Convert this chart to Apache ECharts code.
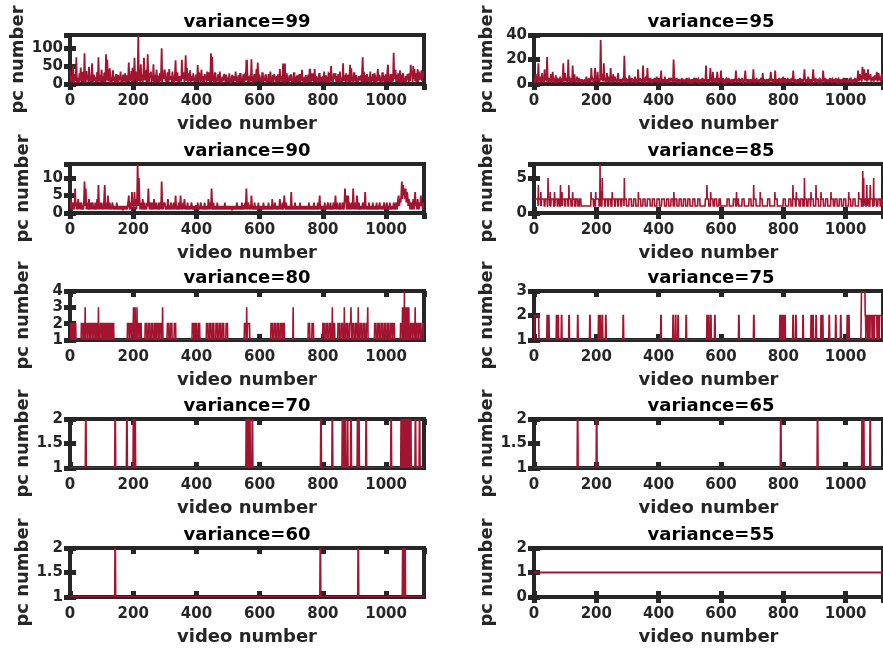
<!DOCTYPE html>
<html>
<head>
<meta charset="utf-8">
<script src="https://cdn.jsdelivr.net/npm/echarts@6/dist/echarts.min.js"></script>
<style>
  html, body { margin: 0; padding: 0; background: #ffffff; }
  #chart { width: 883px; height: 648px; }
</style>
</head>
<body>
<div id="chart"></div>
<script>
// Number of videos on every x axis, and the spacing of the densely sampled series.
const videoCount = 1120;
const denseStep = 2;

const panelTitles = ['variance=99', 'variance=95', 'variance=90', 'variance=85', 'variance=80',
                     'variance=75', 'variance=70', 'variance=65', 'variance=60', 'variance=55'];
const xTickLabels = [0, 200, 400, 600, 800, 1000];

// pc number, one value every 2 videos (video 0, 2, 4, ... 1120); each row covers 20 videos
const pcVar99 = [
  38, 6, 22, 5, 14, 52, 3, 20, 28, 7,
  75, 4, 8, 18, 3, 30, 9, 46, 6, 25,
  34, 4, 15, 86, 9, 4, 36, 12, 22, 5,
  48, 7, 18, 6, 30, 58, 4, 18, 26, 8,
  20, 5, 14, 33, 6, 75, 8, 24, 4, 17,
  40, 6, 19, 5, 28, 30, 4, 83, 9, 68,
  22, 7, 31, 44, 3, 18, 4, 25, 38, 8,
  20, 5, 14, 28, 6, 8, 26, 4, 22, 12,
  35, 4, 18, 6, 26, 18, 7, 30, 12, 4,
  24, 6, 17, 60, 5, 25, 9, 36, 8, 45,
  30, 6, 73, 12, 34, 30, 4, 18, 137, 9,
  20, 5, 55, 8, 26, 5, 30, 73, 10, 28,
  40, 6, 25, 83, 4, 7, 30, 18, 35, 6,
  22, 8, 55, 5, 26, 4, 18, 40, 6, 22,
  18, 4, 30, 7, 25, 100, 5, 28, 14, 38,
  38, 7, 20, 6, 30, 30, 5, 42, 12, 20,
  20, 6, 35, 16, 5, 5, 28, 66, 8, 25,
  33, 6, 22, 4, 20, 20, 7, 68, 14, 30,
  30, 5, 22, 80, 9, 45, 6, 30, 7, 20,
  38, 5, 22, 16, 8, 30, 7, 18, 5, 24,
  24, 6, 53, 12, 32, 25, 4, 18, 40, 9,
  6, 22, 4, 28, 20, 15, 5, 35, 8, 30,
  30, 6, 18, 86, 5, 76, 9, 20, 4, 30,
  30, 4, 16, 7, 25, 25, 6, 35, 12, 5,
  5, 20, 8, 22, 28, 14, 4, 26, 18, 6,
  18, 5, 30, 8, 4, 4, 22, 25, 6, 20,
  20, 7, 35, 14, 6, 6, 22, 22, 5, 28,
  28, 6, 14, 5, 25, 25, 4, 30, 10, 65,
  65, 6, 18, 20, 4, 20, 7, 69, 12, 5,
  7, 22, 28, 5, 16, 42, 6, 60, 14, 25,
  22, 5, 18, 4, 30, 30, 6, 18, 8, 25,
  25, 4, 14, 5, 28, 20, 6, 35, 12, 7,
  7, 25, 5, 28, 16, 20, 4, 22, 5, 25,
  25, 6, 42, 7, 18, 22, 5, 57, 10, 4,
  57, 4, 22, 30, 6, 18, 5, 24, 8, 25,
  25, 5, 16, 6, 30, 30, 4, 20, 4, 22,
  22, 6, 18, 28, 5, 28, 7, 40, 12, 7,
  7, 20, 4, 25, 5, 5, 18, 26, 6, 40,
  40, 5, 20, 30, 8, 30, 6, 42, 14, 6,
  22, 4, 18, 4, 28, 28, 6, 20, 5, 18,
  20, 5, 35, 7, 14, 24, 4, 20, 4, 30,
  28, 6, 20, 50, 7, 18, 5, 30, 14, 24,
  30, 6, 22, 5, 25, 25, 4, 35, 12, 6,
  18, 5, 58, 8, 20, 22, 6, 30, 7, 18,
  25, 6, 20, 54, 5, 44, 8, 20, 4, 30,
  30, 7, 14, 25, 5, 18, 6, 22, 10, 20,
  22, 5, 30, 75, 6, 35, 4, 25, 5, 18,
  28, 6, 16, 20, 5, 35, 4, 20, 7, 28,
  25, 5, 30, 18, 6, 5, 22, 42, 8, 25,
  22, 6, 18, 4, 30, 30, 7, 22, 5, 25,
  25, 5, 35, 54, 8, 20, 6, 28, 12, 4,
  28, 7, 87, 14, 22, 40, 6, 25, 5, 30,
  22, 5, 38, 25, 4, 7, 25, 30, 6, 12,
  4, 22, 6, 18, 28, 22, 5, 30, 8, 54,
  28, 35, 6, 50, 14, 42, 8, 30, 5, 25,
  42, 6, 35, 20, 12, 25, 38, 8, 30, 20,
  38
];

const pcVar95 = [
  3, 1, 6, 8, 2, 5, 1, 17, 4, 2,
  6, 1, 3, 9, 2, 4, 1, 12, 3, 5,
  2, 22, 4, 1, 5, 4, 2, 8, 1, 3,
  10, 2, 5, 1, 2, 7, 3, 1, 5, 2,
  4, 1, 6, 2, 3, 1, 5, 17, 2, 4,
  9, 2, 5, 1, 3, 20, 2, 6, 1, 4,
  4, 1, 15, 3, 2, 8, 1, 4, 2, 6,
  3, 1, 5, 2, 4, 2, 1, 4, 2, 3,
  3, 1, 4, 2, 6, 2, 1, 3, 2, 5,
  2, 1, 13, 3, 4, 2, 1, 5, 13, 2,
  6, 2, 10, 3, 4, 1, 5, 36, 3, 8,
  5, 2, 17, 3, 5, 1, 4, 9, 2, 3,
  6, 1, 3, 13, 2, 4, 1, 8, 3, 2,
  6, 2, 4, 1, 5, 9, 2, 4, 1, 3,
  4, 1, 3, 5, 2, 23, 3, 1, 5, 2,
  4, 1, 3, 7, 2, 3, 1, 5, 2, 4,
  2, 1, 6, 3, 2, 4, 1, 12, 3, 2,
  5, 2, 4, 1, 3, 15, 2, 4, 1, 5,
  6, 2, 13, 3, 1, 3, 2, 5, 1, 2,
  4, 1, 3, 2, 5, 3, 1, 6, 2, 3,
  3, 1, 5, 2, 11, 2, 1, 4, 2, 3,
  6, 1, 2, 4, 2, 3, 1, 5, 2, 4,
  5, 2, 4, 1, 20, 6, 2, 3, 1, 5,
  3, 1, 4, 2, 3, 2, 1, 5, 2, 3,
  4, 1, 2, 3, 2, 5, 1, 3, 2, 4,
  3, 1, 2, 4, 2, 3, 1, 5, 2, 3,
  5, 1, 3, 2, 4, 3, 1, 2, 4, 2,
  5, 1, 3, 2, 4, 2, 15, 3, 1, 4,
  2, 1, 4, 13, 2, 3, 1, 10, 2, 4,
  3, 1, 5, 2, 10, 4, 1, 3, 2, 4,
  11, 2, 3, 1, 4, 2, 1, 3, 2, 4,
  3, 1, 5, 2, 3, 2, 1, 4, 2, 3,
  4, 1, 3, 2, 11, 3, 1, 4, 2, 5,
  3, 1, 4, 2, 5, 3, 1, 2, 4, 11,
  3, 1, 4, 2, 3, 2, 1, 4, 2, 3,
  4, 1, 12, 3, 2, 4, 1, 5, 2, 3,
  3, 1, 4, 2, 5, 3, 1, 9, 2, 3,
  4, 1, 2, 3, 2, 4, 1, 3, 2, 5,
  10, 2, 3, 1, 4, 2, 1, 11, 3, 2,
  4, 1, 3, 2, 5, 2, 1, 3, 2, 4,
  6, 1, 3, 2, 4, 2, 1, 5, 2, 3,
  4, 1, 3, 2, 5, 2, 11, 3, 1, 4,
  3, 1, 2, 4, 2, 3, 1, 5, 2, 3,
  4, 1, 3, 5, 12, 3, 1, 4, 2, 3,
  6, 1, 3, 2, 4, 2, 1, 5, 12, 3,
  3, 1, 5, 2, 4, 2, 1, 3, 2, 4,
  3, 1, 2, 4, 11, 3, 1, 5, 2, 3,
  4, 1, 2, 3, 2, 5, 1, 3, 2, 4,
  3, 1, 4, 2, 5, 2, 1, 3, 2, 4,
  3, 1, 2, 4, 2, 3, 1, 5, 2, 3,
  3, 1, 4, 2, 3, 2, 1, 5, 2, 4,
  3, 1, 2, 4, 2, 5, 1, 3, 2, 4,
  11, 2, 5, 8, 3, 6, 2, 14, 4, 9,
  12, 3, 6, 9, 2, 5, 12, 3, 7, 4,
  8, 2, 5, 3, 6, 2, 4, 7, 3, 5,
  10, 2, 4, 9, 3, 6, 2, 5, 8, 3,
  6
];

const pcVar90 = [
  2, 4, 1, 3, 2, 1, 3, 1, 7, 2,
  3, 1, 2, 4, 1, 3, 1, 2, 3, 1,
  2, 1, 3, 9, 2, 7, 1, 3, 2, 1,
  4, 1, 2, 3, 1, 2, 3, 1, 2, 1,
  3, 1, 2, 4, 1, 8, 2, 1, 3, 1,
  3, 1, 2, 1, 4, 8, 1, 2, 3, 1,
  5, 1, 2, 3, 1, 2, 1, 3, 2, 1,
  2, 1, 2, 1, 3, 1, 2, 1, 2, 1,
  2, 1, 2, 1, 1, 2, 1, 2, 1, 2,
  1, 2, 3, 5, 1, 2, 3, 1, 6, 2,
  3, 1, 6, 2, 4, 1, 3, 14, 2, 10,
  4, 1, 3, 2, 1, 4, 2, 1, 3, 1,
  2, 1, 3, 2, 7, 2, 1, 3, 2, 1,
  3, 1, 2, 4, 1, 2, 3, 1, 2, 1,
  3, 1, 2, 3, 1, 9, 2, 1, 3, 2,
  3, 1, 2, 1, 2, 4, 1, 2, 1, 2,
  3, 1, 2, 1, 3, 2, 1, 5, 2, 1,
  2, 1, 3, 1, 2, 5, 1, 2, 1, 3,
  1, 4, 2, 1, 2, 1, 3, 1, 2, 1,
  2, 1, 3, 2, 1, 2, 1, 2, 1, 2,
  2, 1, 3, 1, 2, 1, 2, 3, 1, 2,
  1, 2, 1, 3, 1, 2, 1, 2, 1, 4,
  2, 1, 3, 1, 7, 2, 1, 3, 1, 2,
  1, 2, 1, 3, 1, 2, 1, 2, 1, 2,
  1, 2, 1, 2, 1, 3, 1, 2, 1, 2,
  1, 2, 1, 2, 1, 2, 1, 1, 2, 1,
  2, 1, 2, 1, 3, 1, 2, 1, 2, 1,
  2, 1, 3, 1, 2, 2, 1, 3, 1, 7,
  2, 1, 3, 2, 1, 2, 1, 5, 2, 1,
  2, 1, 3, 1, 2, 1, 2, 1, 3, 1,
  2, 1, 2, 1, 2, 1, 3, 1, 2, 1,
  2, 1, 2, 1, 3, 1, 2, 1, 2, 1,
  4, 1, 2, 1, 3, 2, 1, 2, 1, 2,
  1, 2, 4, 1, 2, 1, 3, 1, 2, 5,
  2, 1, 3, 1, 2, 1, 2, 1, 2, 1,
  6, 1, 2, 1, 2, 1, 3, 1, 2, 1,
  2, 1, 2, 1, 3, 1, 2, 1, 2, 1,
  2, 1, 2, 1, 2, 1, 2, 1, 3, 1,
  2, 1, 2, 1, 2, 1, 3, 1, 2, 1,
  2, 1, 3, 1, 2, 5, 1, 2, 1, 2,
  1, 2, 1, 3, 1, 2, 1, 2, 3, 1,
  2, 1, 3, 1, 2, 1, 2, 3, 1, 2,
  5, 1, 2, 3, 1, 2, 1, 3, 1, 2,
  1, 3, 2, 1, 2, 7, 3, 5, 1, 2,
  5, 1, 3, 2, 1, 2, 3, 1, 7, 2,
  1, 3, 2, 1, 5, 2, 1, 3, 1, 2,
  1, 2, 1, 3, 2, 1, 2, 6, 1, 2,
  1, 2, 1, 3, 1, 2, 1, 2, 1, 3,
  1, 2, 1, 2, 1, 3, 1, 2, 1, 2,
  3, 1, 2, 1, 2, 1, 2, 3, 1, 2,
  1, 3, 2, 1, 2, 1, 3, 1, 2, 1,
  2, 1, 3, 2, 1, 2, 3, 1, 2, 4,
  5, 2, 4, 3, 5, 9, 4, 8, 5, 7,
  4, 7, 3, 6, 5, 2, 4, 3, 1, 2,
  3, 1, 2, 4, 1, 3, 6, 2, 3, 1,
  4, 2, 1, 3, 2, 5, 2, 3, 1, 2,
  3
];

// Integer series: every video is 1 except the runs listed as [firstVideo, lastVideo, pcNumber]
const pcVar85Runs = [
  [1,12,2],[14,14,4],[15,20,2],[22,22,3],[24,32,2],[36,42,2],[45,45,5],[46,50,2],[52,52,3],
  [55,62,2],[66,66,3],[68,74,2],[78,82,2],[85,85,4],[86,88,2],[90,90,3],[92,98,2],[102,108,2],
  [112,112,4],[113,118,2],[124,124,3],[125,130,2],[135,140,2],[146,150,2],[183,183,3],[184,190,2],
  [193,193,2],[198,198,3],[199,208,2],[212,212,7],[214,216,3],[219,219,5],[220,226,2],[230,236,2],
  [240,246,2],[251,251,3],[252,258,2],[262,268,2],[272,278,2],[282,288,2],[290,290,5],[291,296,2],
  [305,312,2],[320,326,2],[335,335,3],[336,342,2],[350,356,2],[364,372,2],[380,386,2],[395,402,2],
  [410,418,2],[426,432,2],[440,446,2],[449,449,3],[452,458,2],[466,472,2],[480,486,2],[494,500,2],
  [510,516,2],[526,532,2],[550,554,2],[555,555,4],[556,560,2],[567,567,3],[568,574,2],[580,586,2],
  [594,598,2],[620,626,2],[640,646,2],[650,650,3],[652,656,2],[668,674,2],[690,696,2],[705,705,4],
  [706,712,2],[726,726,3],[727,732,2],[750,756,2],[773,773,3],[774,780,2],[800,806,2],[818,824,2],
  [831,831,4],[832,838,2],[842,842,3],[843,850,2],[856,862,2],[868,868,5],[869,874,2],[880,886,2],
  [889,889,3],[890,896,2],[905,905,4],[906,912,2],[921,921,3],[922,928,2],[936,942,2],[953,953,3],
  [954,960,2],[966,972,2],[980,986,2],[994,1000,2],[1010,1010,3],[1011,1016,2],[1024,1030,2],
  [1042,1042,3],[1043,1050,2],[1055,1055,6],[1058,1058,5],[1060,1064,2],[1068,1068,4],[1070,1074,2],
  [1079,1079,4],[1080,1086,2],[1090,1090,5],[1092,1098,2],[1104,1110,2],[1114,1118,2]
];

const pcVar80Runs = [
  [2,6,2],[9,12,2],[15,18,2],[36,40,2],[43,46,2],[48,48,3],[50,54,2],[58,62,2],[66,70,2],[74,78,2],
  [82,85,2],[90,90,3],[96,100,2],[104,107,2],[112,115,2],[120,123,2],[128,131,2],[136,138,2],
  [182,186,2],[190,194,2],[197,200,2],[201,201,3],[204,205,2],[206,206,3],[208,210,2],[212,212,3],
  [214,218,2],[222,225,2],[238,242,2],[248,252,2],[258,262,2],[268,271,2],[276,280,2],[284,288,2],
  [293,293,3],[308,312,2],[318,322,2],[330,334,2],[387,391,2],[396,400,2],[406,410,2],[432,436,2],
  [442,446,2],[452,455,2],[462,466,2],[472,476,2],[482,486,2],[494,498,2],[552,556,2],[559,559,3],
  [562,568,2],[636,640,2],[646,650,2],[656,660,2],[666,670,2],[675,678,2],[706,706,3],[754,758,2],
  [766,770,2],[800,804,2],[810,814,2],[820,824,2],[830,830,3],[834,837,2],[848,852,2],[858,862,2],
  [868,868,3],[874,878,2],[884,888,2],[889,889,3],[894,898,2],[904,908,2],[912,912,3],[918,922,2],
  [928,932,2],[938,941,2],[942,942,3],[964,968,2],[974,978,2],[984,988,2],[994,998,2],[1004,1008,2],
  [1014,1018,2],[1022,1026,2],[1046,1050,2],[1052,1052,3],[1054,1054,3],[1056,1056,3],[1058,1058,4],
  [1060,1060,3],[1062,1062,2],[1064,1064,3],[1066,1066,3],[1068,1068,2],[1070,1070,3],[1072,1072,3],
  [1078,1082,2],[1086,1090,2],[1092,1092,3],[1096,1100,2],[1104,1108,2],[1114,1119,2]
];

const pcVar75Runs = [
  [2,15,2],[42,43,2],[47,48,2],[72,73,2],[77,78,2],[88,89,2],[112,113,2],[140,141,2],[179,180,2],
  [207,208,2],[212,213,2],[219,220,2],[230,231,2],[286,287,2],[407,408,2],[446,447,2],[454,455,2],
  [462,463,2],[488,489,2],[555,556,2],[560,561,2],[567,568,2],[580,581,2],[657,658,2],[705,706,2],
  [789,790,2],[794,795,2],[800,801,2],[805,806,2],[831,832,2],[840,841,2],[863,864,2],[889,890,2],
  [895,896,2],[905,906,2],[921,922,2],[926,927,2],[947,948,2],[968,969,2],[984,985,2],[1005,1006,2],
  [1010,1011,2],[1050,1050,2],[1051,1062,3],[1063,1064,2],[1066,1070,2],[1073,1076,2],[1079,1084,2],
  [1087,1090,2],[1093,1100,2],[1103,1106,2],[1109,1118,2]
];

// Binary series: videos that need 2 principal components (all others need 1)
const pcVar70Twos = [50, 143, 180, 201, 206, 558, 562, 566, 569, 577, 794, 830, 862, 866, 870, 878,
  889, 910, 914, 937, 1016, 1048, 1050, 1052, 1054, 1057, 1059, 1062, 1065, 1068, 1070, 1072, 1075,
  1078, 1093, 1106];
const pcVar65Twos = [140, 201, 792, 910, 1053, 1056, 1058, 1079];
const pcVar60Twos = [143, 792, 912, 1053, 1056, 1060];
const pcVar55Twos = [];

// y-axis ranges and tick steps of the ten panels
const yMins      = [0, 0, 0, 0, 1, 1, 1, 1, 1, 0];
const yMaxs      = [137, 40, 14, 7, 4, 3, 2, 2, 2, 2];
const yIntervals = [50, 20, 5, 5, 1, 1, 0.5, 0.5, 0.5, 1];

function denseSeries(values) {
  return values.map((v, i) => [i * denseStep, v]);
}
function runSeries(runs) {
  const y = new Array(videoCount).fill(1);
  runs.forEach(([a, b, level]) => { for (let v = a; v <= b; v++) y[v - 1] = level; });
  return y.map((val, k) => [k + 1, val]);
}
function twoSeries(videos) {
  return runSeries(videos.map(v => [v, v, 2]));
}

const seriesData = [
  denseSeries(pcVar99), denseSeries(pcVar95), denseSeries(pcVar90),
  runSeries(pcVar85Runs), runSeries(pcVar80Runs), runSeries(pcVar75Runs),
  twoSeries(pcVar70Twos), twoSeries(pcVar65Twos), twoSeries(pcVar60Twos), twoSeries(pcVar55Twos)
];
const lineWidths = [1.8, 1.8, 1.8, 1.6, 1.6, 1.6, 2, 2, 2, 2];

// layout
const colLeft = [70, 534];
const plotW = 354;
const rowTop = [35, 164, 291, 419, 548];
const plotH = 49;
const ink = '#262626';
const lineColor = '#A2142F';
const font = 'DejaVu Sans';

const grid = [], xAxis = [], yAxis = [], title = [], series = [];
const tickStyle = { inside: true, length: 6, lineStyle: { color: ink, width: 5 } };
const labelFont = { color: ink, fontFamily: font, fontWeight: 'bold', fontSize: 15 };
const nameFont = { color: ink, fontFamily: font, fontWeight: 'bold', fontSize: 18 };

// One unbroken polyline per panel through every sample, placed with the panel's own axes.
function tracePolyline(points, width) {
  return function (params, api) {
    if (params.dataIndex !== 0) return null;
    return {
      type: 'polyline',
      shape: { points: points.map(p => api.coord(p)) },
      style: { stroke: lineColor, lineWidth: width, fill: null, lineJoin: 'miter', miterLimit: 3 },
      silent: true
    };
  };
}

for (let k = 0; k < 10; k++) {
  const col = k % 2, row = Math.floor(k / 2);
  const left = colLeft[col], top = rowTop[row];
  grid.push({ left: left, top: top, width: plotW, height: plotH, show: true,
              borderColor: ink, borderWidth: 4, backgroundColor: 'transparent', containLabel: false });
  title.push({ text: panelTitles[k], left: left + plotW / 2, top: top - 22, padding: 0,
               textAlign: 'center', textVerticalAlign: 'top',
               textStyle: { color: '#000', fontFamily: font, fontWeight: 'bold', fontSize: 18 } });
  const xBase = { gridIndex: k, type: 'value', min: 0, max: videoCount, interval: 200,
                  axisLine: { show: false }, splitLine: { show: false }, axisTick: tickStyle };
  xAxis.push(Object.assign({}, xBase, {
    position: 'bottom',
    axisLabel: Object.assign({ margin: 10, showMaxLabel: false,
      formatter: v => (xTickLabels.indexOf(v) >= 0 ? String(v) : '') }, labelFont),
    name: 'video number', nameLocation: 'middle', nameGap: 31, nameTextStyle: nameFont
  }));
  xAxis.push(Object.assign({}, xBase, { position: 'top', axisLabel: { show: false } }));
  const steps = (yMaxs[k] - yMins[k]) / yIntervals[k];
  const yMaxIsTick = Math.abs(steps - Math.round(steps)) < 1e-9;
  const yBase = { gridIndex: k, type: 'value', min: yMins[k], max: yMaxs[k], interval: yIntervals[k],
                  axisLine: { show: false }, splitLine: { show: false }, axisTick: tickStyle };
  yAxis.push(Object.assign({}, yBase, {
    position: 'left',
    axisLabel: Object.assign({ margin: 7, showMaxLabel: yMaxIsTick, showMinLabel: true }, labelFont),
    name: 'pc number', nameLocation: 'middle', nameRotate: 90, nameGap: 38, nameTextStyle: nameFont
  }));
  yAxis.push(Object.assign({}, yBase, { position: 'right', axisLabel: { show: false } }));
  series.push({ type: 'custom', coordinateSystem: 'cartesian2d',
                xAxisIndex: 2 * k, yAxisIndex: 2 * k, data: seriesData[k],
                renderItem: tracePolyline(seriesData[k], lineWidths[k]),
                silent: true, clip: true, z: 3 });
}

const chart = echarts.init(document.getElementById('chart'), null, { renderer: 'canvas' });
chart.setOption({ animation: false, backgroundColor: '#ffffff', grid, xAxis, yAxis, title, series });
</script>
</body>
</html>
